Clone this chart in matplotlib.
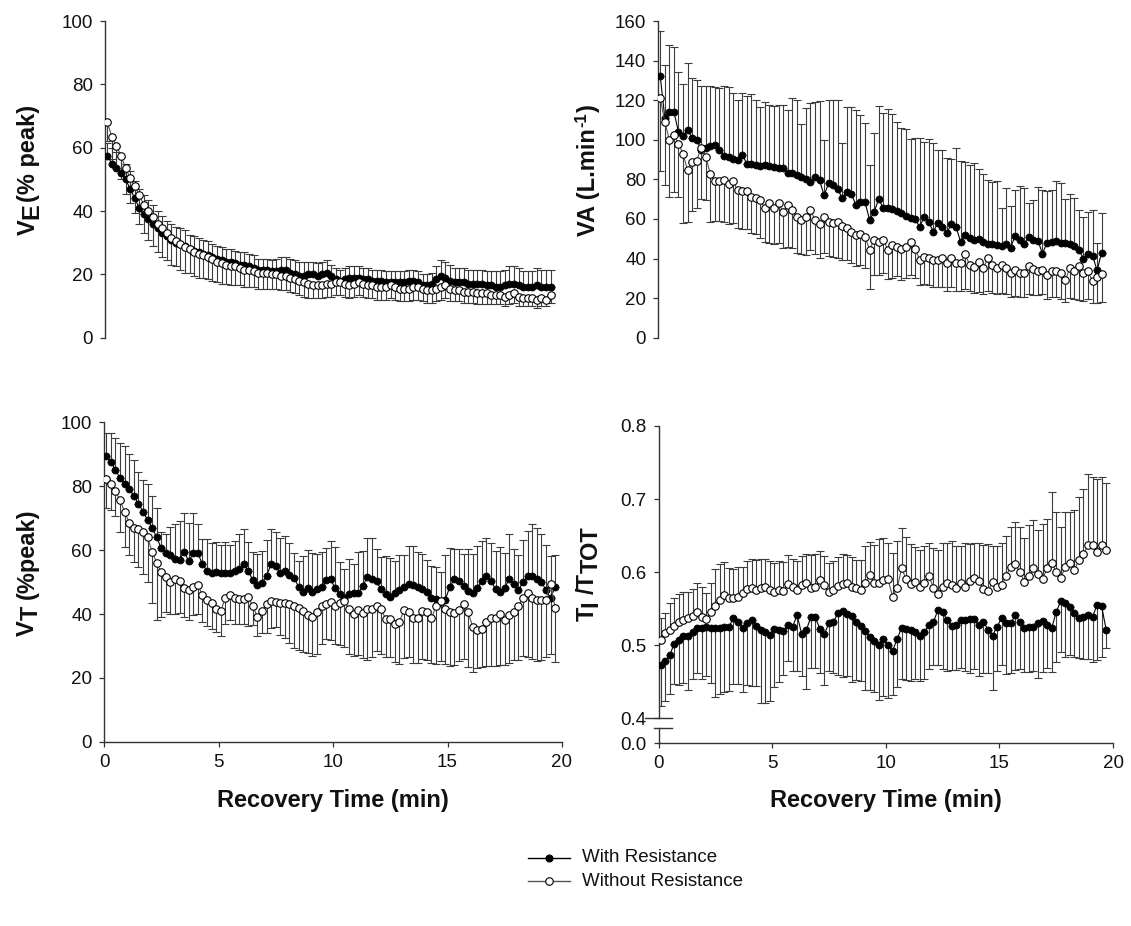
import numpy as np
import matplotlib
matplotlib.use("Agg")
import matplotlib.pyplot as plt
from matplotlib.transforms import IdentityTransform
from matplotlib.lines import Line2D

plt.rcParams['font.family'] = ['Liberation Sans', 'DejaVu Sans']

# ---------------- data ----------------
# sampling: one point every 0.2 min starting at 0.1 min
SAMPLE_START, SAMPLE_STEP = 0.1, 0.2

ve_with = [57.5, 55, 53.5, 52, 50, 47, 44, 41, 39, 37.5,
           36, 34.5, 33, 32, 31, 30, 29.5, 29, 28, 27.5,
           27, 26.5, 26, 25.5, 25, 24.5, 24, 24, 23.5, 23,
           23, 22.5, 22, 21.5, 21.5, 21.5, 21, 21, 21.5, 21.5,
           20.5, 20, 19.5, 19.5, 20, 20, 19.5, 20, 20.5, 19.5,
           18.5, 18, 18.5, 19, 19, 19, 18.5, 18.5, 18, 18,
           18, 17.5, 17.5, 17.5, 17.5, 17.5, 18, 18, 17.5, 16.5,
           16.5, 17, 18.5, 19.5, 19, 18, 17.5, 17.5, 17.5, 17,
           17, 17, 17, 16.5, 16.5, 16, 16, 16.5, 17, 17,
           16.5, 16, 16, 16, 16.5, 16, 16, 16]
ve_with_err = [4, 5, 5, 5, 5, 5.5, 5.5, 6, 6, 6,
               6, 5.5, 5.5, 5, 5, 5, 5, 5, 4.5, 4.5,
               4.5, 4.5, 4.5, 4, 4, 4, 4, 4, 4, 4,
               4, 4, 4, 3.5, 3.5, 3.5, 3.5, 4, 4, 4,
               4.5, 4.5, 4.5, 4.5, 4, 4, 4, 4, 4, 3.5,
               3.5, 3.5, 3.5, 3.5, 3.5, 3.5, 3.5, 3.5, 3.5, 3.5,
               3.5, 3.5, 3.5, 3.5, 3.5, 3.5, 3.5, 3.5, 3.5, 3.5,
               3.5, 3.5, 4, 5, 5, 5, 4.5, 4.5, 4.5, 4.5,
               4.5, 4.5, 4.5, 4.5, 4.5, 5, 5, 5, 5.5, 5.5,
               5.5, 5, 5, 5, 5.5, 5.5, 5.5, 5.5]
ve_without = [68, 63.5, 60.5, 57.5, 53.5, 50.5, 48, 45, 42, 40,
              38, 36, 34.5, 33, 31.5, 30.5, 29.5, 28.5, 28, 27,
              26.5, 26, 25.5, 25, 24, 23.5, 23, 22.5, 22.5, 22,
              21.5, 21.5, 21, 20.5, 20.5, 20.5, 20, 20, 19.5, 19.5,
              19, 18.5, 18, 17.5, 17, 16.5, 16.5, 16.5, 17, 17,
              17.5, 17.5, 17, 16.5, 17, 17.5, 17, 16.5, 16.5, 16,
              16, 16, 16.5, 16, 15.5, 15.5, 15.5, 16, 16, 15.5,
              15, 15, 15.5, 16, 16.5, 15.5, 15, 15, 14.5, 14.5,
              14.5, 14, 14, 14, 13.5, 13.5, 13.5, 13, 13.5, 14,
              13, 12.5, 12.5, 12.5, 12, 12.5, 12, 13.5]
ve_without_err = [6, 7, 7, 7.5, 8, 8, 8.5, 9, 9, 9,
                  9, 9, 9, 8.5, 8.5, 8, 8, 8, 7.5, 7.5,
                  7.5, 7, 7, 7, 6.5, 6.5, 6, 6, 6, 5.5,
                  5.5, 5.5, 5, 5, 5, 5, 4.5, 4.5, 4.5, 4.5,
                  4.5, 4.5, 4.5, 4.5, 4.5, 4, 4, 4, 4, 4,
                  4, 4, 4, 4, 4, 4, 4, 4, 4, 4,
                  4, 4, 4, 4, 4, 4, 4, 4, 4, 4,
                  4, 4, 4, 4, 4, 4, 3.5, 3.5, 3.5, 3.5,
                  3.5, 3.5, 3.5, 3.5, 3, 3, 3, 3, 3, 3,
                  3, 2.5, 2.5, 2.5, 2.5, 2.5, 2, 2.5]

va_with = [132, 111, 114, 114, 104, 102, 105, 101, 100, 95,
           96, 97, 97.5, 95, 92, 91.5, 90.5, 90, 92.5, 88,
           88, 87, 86.5, 87, 86.5, 86, 85.5, 85.5, 83, 83,
           82, 81, 80, 78.5, 81, 79.5, 72, 78, 77, 75,
           70.5, 73.5, 72.5, 67, 68.5, 68.5, 59.5, 63.5, 70, 65.5,
           65.5, 65, 64, 63, 61.5, 60.5, 60, 56, 61, 58.5,
           53.5, 58, 56, 53, 57.5, 56, 48.5, 52, 50.5, 49.5,
           50, 48.5, 47.5, 47.5, 47, 46.5, 47.5, 45.5, 51.5, 49.5,
           47.5, 51, 49.5, 49, 42.5, 48, 48.5, 49, 48, 48,
           47.5, 46.5, 44.5, 40, 42.5, 41.5, 34, 43]
va_with_err = [23, 27, 34, 33, 30, 26, 34, 30, 30, 32,
               31, 30, 29, 31, 35, 35, 33, 30, 31, 34,
               35, 33, 30, 32, 31, 31, 32, 32, 32, 38,
               38, 27, 36, 40, 38, 40, 28, 42, 43, 45,
               28, 43, 44, 48, 44, 40, 28, 40, 47, 48,
               50, 48, 45, 43, 44, 40, 41, 45, 38, 42,
               45, 37, 39, 38, 33, 40, 41, 37, 37, 39,
               35, 34, 32, 31, 32, 19, 28, 21, 23, 27,
               28, 17, 20, 27, 32, 26, 26, 30, 30, 22,
               25, 24, 20, 21, 21, 23, 14, 20]
va_without = [121, 109, 100, 102.5, 98, 93, 84.5, 89, 89.5, 96,
              91.5, 82.5, 79, 79, 79.5, 77.5, 79, 74.5, 74, 74,
              71, 70.5, 69.5, 65.5, 68, 65.5, 68, 63.5, 67, 64.5,
              61, 59.5, 61, 64.5, 59.5, 57.5, 61, 58.5, 58, 58.5,
              56.5, 55.5, 53.5, 52, 52.5, 51, 44.5, 49.5, 48.5, 49.5,
              44.5, 47, 46, 45, 46, 48.5, 45, 39.5, 41, 40.5,
              39.5, 39.5, 40.5, 37.5, 40.5, 37.5, 37.5, 42.5, 36.5, 35.5,
              38, 35, 40.5, 36.5, 35, 36.5, 35, 32.5, 34, 32.5,
              32.5, 36, 34.5, 33.5, 34, 31.5, 33.5, 33.5, 32.5, 29,
              35, 33.5, 36, 32.5, 33.5, 28.5, 30.5, 32]
va_without_err = [37, 32, 29, 29, 27, 35, 26, 25, 24, 26,
                  22, 24, 20, 20, 21, 20, 21, 19, 19, 19,
                  18, 18, 19, 17, 20, 18, 20, 18, 21, 19,
                  18, 17, 19, 20, 17, 17, 18, 17, 17, 18,
                  17, 16, 16, 16, 16, 16, 20, 18, 17, 17,
                  15, 17, 15, 16, 16, 17, 15, 13, 14, 14,
                  14, 14, 15, 14, 15, 14, 14, 18, 13, 13,
                  15, 13, 17, 14, 13, 14, 13, 12, 13, 12,
                  12, 14, 13, 12, 12, 12, 13, 13, 13, 11,
                  15, 14, 17, 14, 14, 11, 13, 14]

vt_with = [89.5, 87.5, 85, 82.5, 80.5, 79, 77, 74.5, 72, 69.5,
           67, 64, 60.5, 59, 58.3, 57.2, 57, 59.5, 56.5, 59,
           59, 55.5, 53.5, 52.7, 53, 52.7, 52.9, 52.7, 53.3, 54,
           55.5, 53.5, 50.5, 49.1, 49.8, 52, 55.5, 55, 52.8, 53.5,
           52.3, 51.2, 48.5, 47, 48, 47, 47.9, 48.3, 50.7, 50.8,
           48, 46.3, 45.1, 46.2, 46.5, 46.5, 48.6, 51.7, 50.9, 50.2,
           47.7, 46.2, 45.4, 46.6, 47.5, 48.5, 49.4, 49.1, 48.4, 47.8,
           47, 45, 44.6, 43.6, 44.4, 48.5, 50.9, 50.3, 48.8, 47.2,
           46.7, 48.2, 50.4, 51.9, 50.3, 47.8, 46.8, 48.2, 51, 49.4,
           47.5, 50, 52, 52, 51, 50, 47.5, 45, 48.5]
vt_with_err = [7, 9, 10, 11, 12, 11, 11, 10, 10, 11,
               10, 9, 5, 6, 9, 11, 12, 12, 12, 12.5,
               9, 8, 10, 9.5, 9.5, 9, 9.5, 9, 9.5, 11,
               11, 9, 9, 9.5, 10, 11, 11, 10.5, 11, 11,
               10, 8, 8, 11, 12, 12, 11, 11, 10, 12,
               13, 10, 9, 11, 9, 13, 11, 12, 13, 10,
               10, 12, 12, 10, 11, 10, 12, 12, 11, 11,
               10, 10, 10, 9.5, 14, 12, 9.5, 10, 10, 13,
               12, 13, 12.5, 12, 12, 12, 14, 11, 14, 11,
               11, 13, 14, 16, 16, 15, 14, 13, 10]
vt_without = [82.2, 80.5, 78.5, 75.5, 72, 68.5, 66.8, 66.7, 65.5, 64,
              59.5, 56, 53, 51.5, 50, 51, 50.3, 48, 47.5, 48.3,
              49, 46, 44.4, 43.3, 41.5, 41, 45, 46, 45, 44.8,
              44.8, 45.2, 42.5, 39, 41, 43, 44, 43.8, 43.5, 43.5,
              43, 42.5, 41.8, 41, 39.7, 39, 40.5, 42.5, 43.2, 43.8,
              42.5, 43.3, 44.2, 41.5, 40, 41.2, 40.3, 41.5, 41.5, 42.5,
              41.5, 38.5, 38.5, 37, 37.5, 41.3, 40.5, 38.7, 38.7, 41,
              40.5, 38.7, 42.5, 44.2, 41.5, 40.7, 40.2, 41.2, 43, 40.5,
              36, 35, 35.3, 37.6, 38.7, 38.7, 40, 38.2, 39.7, 40.6,
              42.5, 45, 46.5, 45, 44.4, 44.5, 44.5, 49.5, 42]
vt_without_err = [9, 8, 8, 10, 11, 10, 10.5, 12, 13, 14,
                  16, 18, 14, 11, 10, 11, 10, 9, 9.5, 8.5,
                  9, 8.5, 8, 8, 7, 8, 8, 8, 8, 8,
                  8, 9, 6, 6, 7, 9, 8.5, 8, 10, 11,
                  12, 13, 13, 13, 12, 12, 13, 12, 11, 12,
                  12, 13, 14.6, 14, 13, 14, 14, 16, 15, 14,
                  14, 12, 12, 12, 13, 15, 14, 14, 14, 15,
                  15, 14, 18, 19, 17, 17, 16, 16, 17, 17,
                  14, 12, 12, 14, 15, 15, 16, 14, 15, 15,
                  17, 18, 20, 19, 19, 19, 18, 22, 17]

ti_with = [.473, .478, .487, .502, .507, .512, .513, .518, .524, .523,
           .525, .523, .523, .523, .525, .525, .537, .531, .524, .530,
           .534, .526, .521, .518, .514, .522, .520, .519, .528, .525,
           .541, .515, .520, .538, .538, .522, .515, .530, .532, .544,
           .546, .543, .540, .532, .526, .519, .511, .505, .500, .508,
           .500, .492, .508, .524, .522, .521, .518, .513, .518, .527,
           .532, .548, .545, .534, .526, .528, .534, .534, .536, .535,
           .528, .532, .521, .513, .525, .537, .530, .530, .541, .532,
           .523, .525, .525, .530, .533, .528, .523, .545, .560, .557,
           .552, .544, .537, .539, .541, .539, .555, .553, .521]
ti_with_err = [.057, .055, .054, .055, .062, .064, .075, .065, .062, .070,
               .068, .075, .094, .090, .090, .088, .090, .085, .088, .085,
               .090, .082, .100, .098, .090, .080, .070, .060, .050, .060,
               .077, .058, .080, .070, .070, .060, .070, .065, .070, .085,
               .090, .085, .090, .080, .075, .080, .072, .070, .075, .078,
               .072, .060, .065, .070, .070, .070, .065, .062, .065, .060,
               .060, .075, .078, .070, .060, .062, .065, .070, .075, .068,
               .070, .070, .060, .075, .060, .065, .070, .068, .075, .065,
               .060, .062, .060, .075, .070, .060, .060, .068, .070, .073,
               .065, .060, .055, .058, .060, .062, .075, .070, .025]
ti_without = [.507, .516, .520, .526, .531, .534, .537, .540, .545, .539,
              .535, .545, .554, .561, .569, .565, .564, .566, .571, .577,
              .578, .576, .578, .580, .575, .573, .575, .574, .583, .580,
              .575, .582, .585, .578, .580, .589, .582, .572, .575, .581,
              .584, .585, .580, .578, .575, .585, .596, .585, .585, .589,
              .590, .566, .578, .605, .590, .584, .586, .580, .585, .595,
              .578, .570, .580, .585, .582, .578, .585, .580, .588, .592,
              .588, .577, .574, .586, .580, .582, .595, .607, .611, .600,
              .587, .594, .605, .597, .591, .605, .613, .600, .592, .607,
              .612, .603, .616, .624, .637, .637, .628, .637, .630]
ti_without_err = [.030, .028, .037, .039, .039, .038, .036, .037, .040, .040,
                  .036, .040, .050, .050, .045, .040, .040, .041, .036, .038,
                  .040, .040, .040, .038, .040, .040, .040, .040, .040, .038,
                  .040, .040, .040, .045, .045, .040, .040, .041, .040, .040,
                  .040, .038, .040, .038, .042, .050, .045, .052, .060, .058,
                  .050, .060, .065, .055, .058, .055, .048, .050, .050, .045,
                  .055, .060, .060, .055, .060, .058, .050, .060, .050, .048,
                  .052, .060, .065, .050, .055, .058, .055, .055, .058, .062,
                  .060, .070, .066, .060, .075, .068, .097, .082, .070, .075,
                  .070, .082, .087, .090, .097, .093, .100, .093, .092]

series_labels = ["With Resistance", "Without Resistance"]
x_label = "Recovery Time (min)"
x_ticks = [0, 5, 10, 15, 20]
ve_ticks = [0, 20, 40, 60, 80, 100]
va_ticks = [0, 20, 40, 60, 80, 100, 120, 140, 160]
vt_ticks = [0, 20, 40, 60, 80, 100]
ti_ticks = [0.4, 0.5, 0.6, 0.7, 0.8]
ti_tick_labels = ["0.0", "0.4", "0.5", "0.6", "0.7", "0.8"]
TI_BREAK_BOTTOM = 0.3658   # value shown as "0.0" below the axis break


def minutes(values):
    return SAMPLE_START + SAMPLE_STEP * np.arange(len(values))


# ---------------- figure ----------------
W, H = 1131, 926
fig = plt.figure(figsize=(W / 100, H / 100), dpi=100)
fig.patch.set_facecolor("white")

AX_COL = "#333333"
TICK_FS = 13.5
LABEL_FS = 17
MS_FILLED = 5.0
MS_OPEN = 5.4


def px_axes(x0, x1, ytop, ybot):
    return fig.add_axes([x0 / W, 1 - ybot / H, (x1 - x0) / W, (ybot - ytop) / H])


def style(ax, show_x):
    for s in ("top", "right"):
        ax.spines[s].set_visible(False)
    ax.spines["left"].set_color(AX_COL)
    ax.spines["left"].set_linewidth(1.0)
    if show_x:
        ax.spines["bottom"].set_color(AX_COL)
        ax.spines["bottom"].set_linewidth(1.0)
        ax.set_xticks(x_ticks)
        ax.set_xticklabels([str(v) for v in x_ticks])
    else:
        ax.spines["bottom"].set_visible(False)
        ax.set_xticks([])
    ax.tick_params(axis="both", direction="out", length=3.5, width=0.9,
                   color=AX_COL, labelsize=TICK_FS, pad=5, labelcolor="#111111")
    ax.set_xlim(0, 20)
    ax.set_facecolor("none")


def draw(ax, with_v, with_e, with_up, without_v, without_e, without_up):
    tw = minutes(with_v)
    to = minutes(without_v)
    we = np.asarray(with_e)
    oe = np.asarray(without_e)
    zw = np.zeros_like(we)
    zo = np.zeros_like(oe)
    ekw = dict(fmt="none", ecolor="#3c3c3c", elinewidth=0.8, capsize=2.8,
               capthick=0.8, zorder=1)
    ax.errorbar(tw, with_v, yerr=[zw, we] if with_up else [we, zw], **ekw)
    ax.errorbar(to, without_v, yerr=[zo, oe] if without_up else [oe, zo], **ekw)
    ax.plot(tw, with_v, "-", color="black", lw=0.8, marker="o", ms=MS_FILLED,
            mfc="black", mec="black", mew=0.6, zorder=3)
    ax.plot(to, without_v, "-", color="#555555", lw=0.8, marker="o", ms=MS_OPEN,
            mfc="white", mec="black", mew=0.8, zorder=4)


# VE panel (top left)
ax1 = px_axes(105, 562, 21, 337.7)
style(ax1, False)
draw(ax1, ve_with, ve_with_err, True, ve_without, ve_without_err, False)
ax1.set_ylim(0, 100)
ax1.set_yticks(ve_ticks)

# VA panel (top right)
ax2 = px_axes(658, 1113, 21, 337.7)
style(ax2, False)
draw(ax2, va_with, va_with_err, True, va_without, va_without_err, False)
ax2.set_ylim(0, 160)
ax2.set_yticks(va_ticks)

# VT panel (bottom left)
ax3 = px_axes(104, 562, 422, 742)
style(ax3, True)
draw(ax3, vt_with, vt_with_err, True, vt_without, vt_without_err, False)
ax3.set_ylim(0, 100)
ax3.set_yticks(vt_ticks)

# TI/TTOT panel (bottom right) with broken axis
ax4 = px_axes(658.5, 1113, 426, 743)
style(ax4, True)
draw(ax4, ti_with, ti_with_err, False, ti_without, ti_without_err, True)
ax4.set_ylim(TI_BREAK_BOTTOM, 0.8)
ax4.set_yticks([TI_BREAK_BOTTOM] + ti_ticks)
ax4.set_yticklabels(ti_tick_labels)
ax4.spines["left"].set_bounds(0.4, 0.8)
axw = 1113 - 658.5
brk_low = 0.3859
bt = ax4.get_yaxis_transform()
ax4.add_line(Line2D([0, 0], [TI_BREAK_BOTTOM, brk_low], transform=bt,
                    color=AX_COL, lw=1.0, clip_on=False))
ax4.add_line(Line2D([-13.5 / axw, 13.5 / axw], [0.4, 0.4], transform=bt,
                    color=AX_COL, lw=1.0, clip_on=False))
ax4.add_line(Line2D([-4.5 / axw, 13.5 / axw], [brk_low, brk_low], transform=bt,
                    color=AX_COL, lw=1.0, clip_on=False))

# ---------------- labels ----------------
renderer = fig.canvas.get_renderer()


def vlabel(xc, yc, parts, size):
    """Vertical label assembled from pieces: (text, shift_px, scale, gap_px)."""
    size_px = size * 100 / 72
    items = []
    total = 0
    for txt, shift, scale, gap in parts:
        tt = fig.text(0, 0, txt, fontsize=size * scale, fontweight="bold",
                      transform=IdentityTransform(), ha="left", va="baseline",
                      rotation=0, rotation_mode="anchor", color="#111111")
        w = tt.get_window_extent(renderer=renderer).width
        items.append((tt, w, shift, gap))
        total += w + gap
    y = (H - yc) - total / 2
    base_x = xc + 0.36 * size_px
    for tt, w, shift, gap in items:
        y += gap
        tt.set_rotation(90)
        tt.set_position((base_x + shift, y))
        y += w


SUB = 4
vlabel(26, 170, [("V", 0, 1, 0), ("E", SUB, 1, 0), ("(% peak)", 0, 1, 1)], LABEL_FS)
vlabel(586, 170, [("VA (L.min", 0, 1, 0), ("-1", -8, 0.7, 1), (")", 0, 1, 1)], LABEL_FS)
vlabel(25, 572, [("V", 0, 1, 0), ("T", SUB, 1, 0), ("(%peak)", 0, 1, 7)], LABEL_FS)
vlabel(585, 574, [("T", 0, 1, 0), ("I", SUB, 1, 0), ("/T", 0, 1, 6),
                  ("TOT", SUB, 1, 0)], LABEL_FS)

for xc in ((104 + 562) / 2, (658.5 + 1113) / 2):
    fig.text(xc / W, 1 - 801 / H, x_label, ha="center", va="center",
             fontsize=LABEL_FS, fontweight="bold", color="#111111")

# ---------------- legend ----------------
leg_rows = [(858, dict(mfc="black", ms=MS_FILLED), "black"),
            (881, dict(mfc="white", ms=MS_OPEN), "#555555")]
for (yrow, mk, lc), lab in zip(leg_rows, series_labels):
    yf = 1 - yrow / H
    fig.add_artist(Line2D([528 / W, 570 / W], [yf, yf], transform=fig.transFigure,
                          color=lc, lw=1.0))
    fig.add_artist(Line2D([549 / W], [yf], transform=fig.transFigure, marker="o",
                          mec="black", mew=0.8, lw=0, **mk))
    fig.text(582 / W, yf, lab, ha="left", va="center", fontsize=13.5,
             color="#111111")

fig.savefig("out.png", dpi=100, facecolor="white")
